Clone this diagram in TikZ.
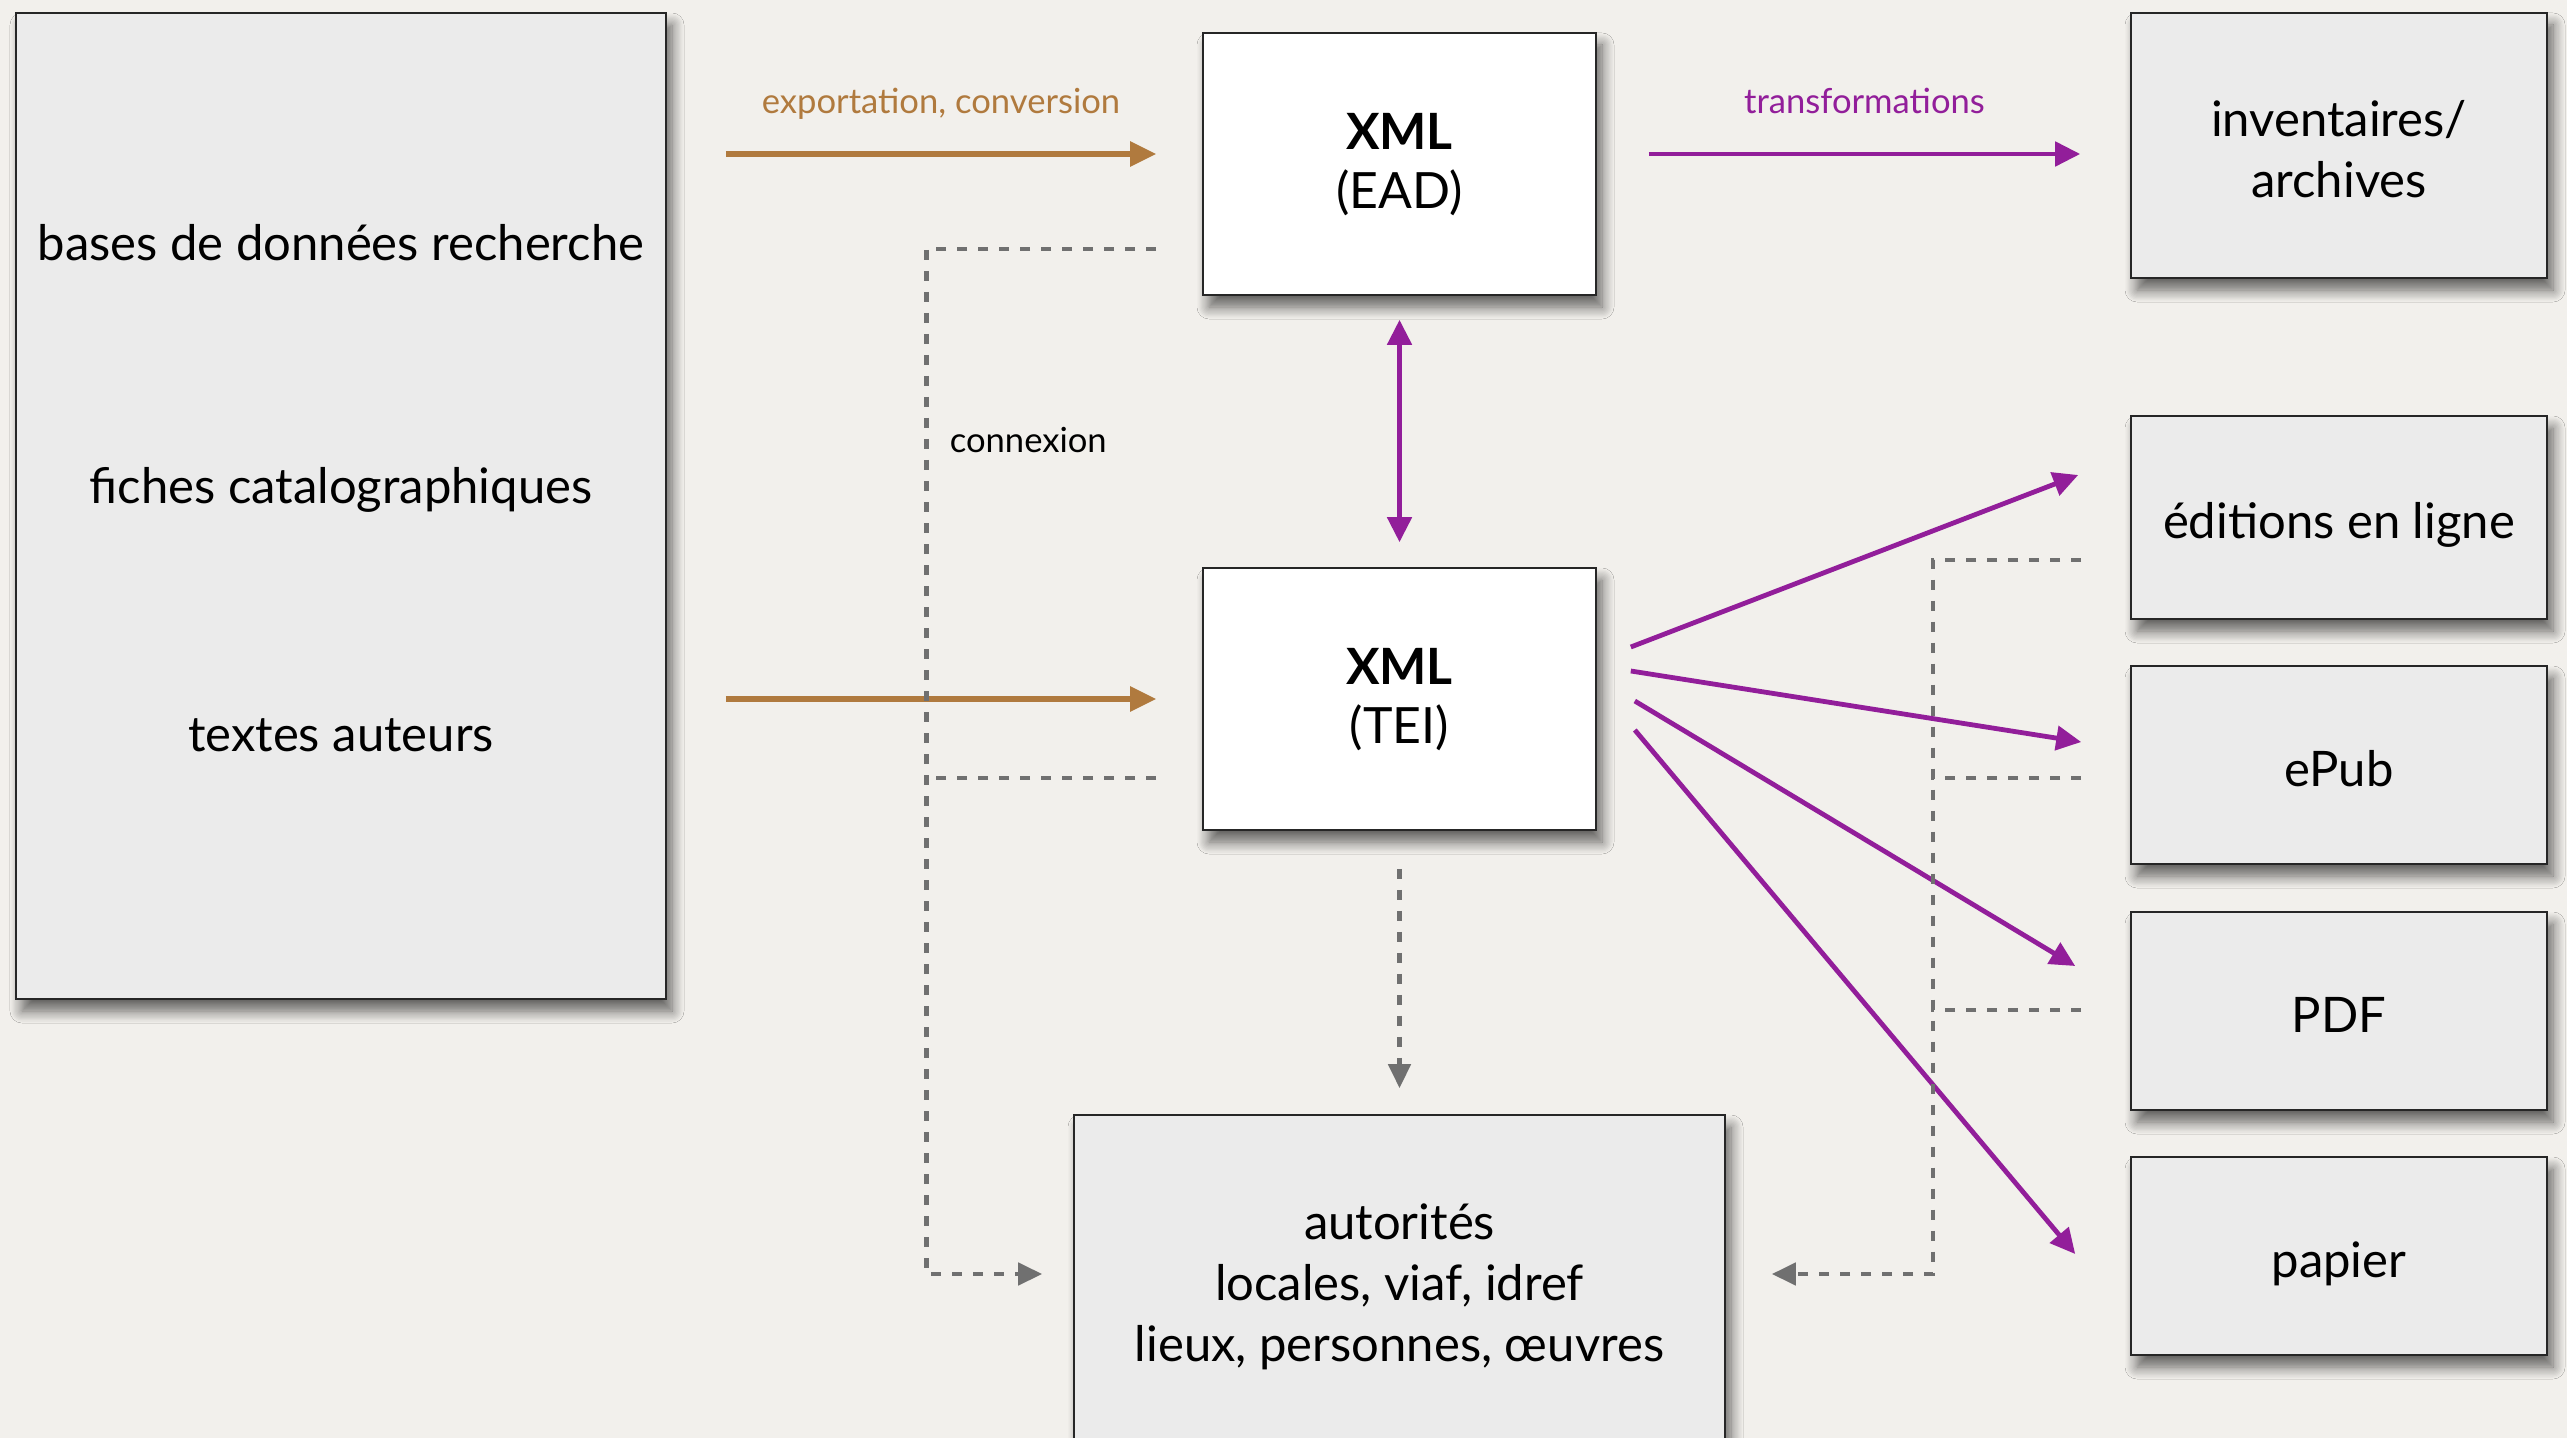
\documentclass[tikz,border=0pt]{standalone}
\usepackage{fontspec}
\setmainfont{Lato}
\usetikzlibrary{arrows.meta,shadows.blur,calc}

\definecolor{bgcol}{RGB}{242,240,236}
\definecolor{boxcol}{RGB}{235,235,235}
\definecolor{brn}{RGB}{176,122,62}
\definecolor{pur}{RGB}{146,30,154}
\definecolor{gry}{RGB}{112,112,112}

% lower box text a little, keeping its size
\newcommand{\lowtxt}[2][4.5pt]{\raisebox{-#1}[\height][\depth]{\begin{tabular}{@{}c@{}}#2\end{tabular}}}

\tikzset{every picture/.style={line width=0.75pt}}
\tikzset{
  box/.style={draw=black!85, line width=0.8pt, fill=boxcol, align=center, inner sep=0pt,
    blur shadow={shadow xshift=3pt, shadow yshift=-6pt, shadow blur radius=6pt, shadow blur steps=10, shadow opacity=60},
    font=\fontsize{24.5}{30.5}\selectfont},
  xmlbox/.style={box, fill=white, font=\fontsize{25}{29.5}\selectfont},
  boxtext/.style={inner sep=0pt, font=\fontsize{24.5}{30.5}\selectfont},
  brnarrow/.style={draw=brn, line width=2.6pt, -{Triangle[length=13pt,width=12pt]}},
  purtip/.style={-{Triangle[length=12.5pt,width=12pt]}},
  purarrow/.style={draw=pur, line width=2.4pt, purtip},
  dashline/.style={draw=gry, line width=2.3pt, dash pattern=on 5pt off 5.5pt},
  grytip/.style={-{Triangle[length=12pt,width=11pt]}},
  lbl/.style={inner sep=0pt, font=\fontsize{17.3}{20}\selectfont},
}

\begin{document}
\begin{tikzpicture}[x=0.5pt,y=0.5pt,yscale=-1,xscale=1]
\useasboundingbox (0,0) rectangle (2567,1438);
\fill[bgcol] (0,0) rectangle (2567,1438);

%Shape: Rectangle, sources
\node[box, minimum width=325pt, minimum height=493pt] (src) at (341,506) {};
% Text Node
\node[boxtext] (bdd) at (341,243) {bases de données recherche};
% Text Node
\node[boxtext] (fic) at (341,490) {fiches catalographiques};
% Text Node
\node[boxtext] (txt) at (341,735) {textes auteurs};

%Shape: Rectangle, XML boxes
\node[xmlbox, minimum width=196.5pt, minimum height=131pt] (ead) at (1399.5,164) {\lowtxt[1.5pt]{\textbf{XML}\\(EAD)}};
\node[xmlbox, minimum width=196.5pt, minimum height=131pt] (tei) at (1399.5,699) {\lowtxt[1.5pt]{\textbf{XML}\\(TEI)}};

%Shape: Rectangle, authorities
\node[box, minimum width=325.5pt, minimum height=167pt] (aut) at (1399.5,1282) {\lowtxt[3pt]{autorités\\locales, viaf, idref\\lieux, personnes, œuvres}};

%Shape: Rectangle, outputs
\node[box, minimum width=208pt, minimum height=132.5pt] (inv) at (2339,145.5) {\lowtxt{inventaires/\\archives}};
\node[box, minimum width=208pt, minimum height=101.5pt] (edl) at (2339,517.5) {\lowtxt{éditions en ligne}};
\node[box, minimum width=208pt, minimum height=99pt] (epub) at (2339,765) {\lowtxt{ePub}};
\node[box, minimum width=208pt, minimum height=99pt] (pdf) at (2339,1011) {\lowtxt{PDF}};
\node[box, minimum width=208pt, minimum height=99pt] (pap) at (2339,1256) {\lowtxt{papier}};

%Straight Lines, brown
\draw[brnarrow] ($(src.east |- ead.west)+(59,-10)$) -- node[lbl, text=brn, midway, anchor=base, yshift=20pt] (exp) {exportation, conversion} ($(ead.west)+(-46,-10)$);
\draw[brnarrow] ($(src.east |- tei.west)+(59,0)$) -- ($(tei.west)+(-46,0)$);

%Straight Lines, purple
\draw[purarrow] ($(ead.east)+(52,-10)$) -- node[lbl, text=pur, midway, anchor=base, yshift=20pt] (trf) {transformations} ($(inv.west |- ead.east)+(-50,-10)$);
\draw[draw=pur, line width=2.4pt, {Triangle[length=12.5pt,width=12pt]}-{Triangle[length=12.5pt,width=12pt]}] ($(ead.south)+(0,24)$) -- ($(tei.north)+(0,-25)$);
\draw[purarrow] ($(tei.east)+(34,-52)$) -- ($(edl.west)+(-52,-42.5)$);
\draw[purarrow] ($(tei.east)+(34,-28)$) -- ($(epub.west)+(-49,-23)$);
\draw[purarrow] ($(tei.east)+(38,2)$) -- ($(pdf.west)+(-55,-45)$);
\draw[purarrow] ($(tei.east)+(38,31)$) -- ($(pap.west)+(-55,-2)$);

%Dashed Lines, left
\draw[dashline, grytip] ($(ead.west)+(-46,85)$) -| ($(aut.west)+(-147,-8)$) -- ($(aut.west)+(-31,-8)$);
\draw[dashline] ($(tei.west)+(-46,79)$) -- ($(tei.west)+(-276,79)$);
% Text Node
\node[lbl, anchor=west] (cnx) at (949,440) {connexion};

%Dashed Lines, down
\draw[dashline, grytip] ($(tei.south)+(0,38)$) -- ($(aut.north)+(0,-26)$);

%Dashed Lines, right
\draw[dashline, grytip] ($(edl.west)+(-49,42.5)$) -| ($(aut.east)+(207,-8)$) -- ($(aut.east)+(46,-8)$);
\draw[dashline] ($(epub.west)+(-49,13)$) -- ($(epub.west)+(-199,13)$);
\draw[dashline] ($(pdf.west)+(-49,-1)$) -- ($(pdf.west)+(-199,-1)$);

\end{tikzpicture}
\end{document}
